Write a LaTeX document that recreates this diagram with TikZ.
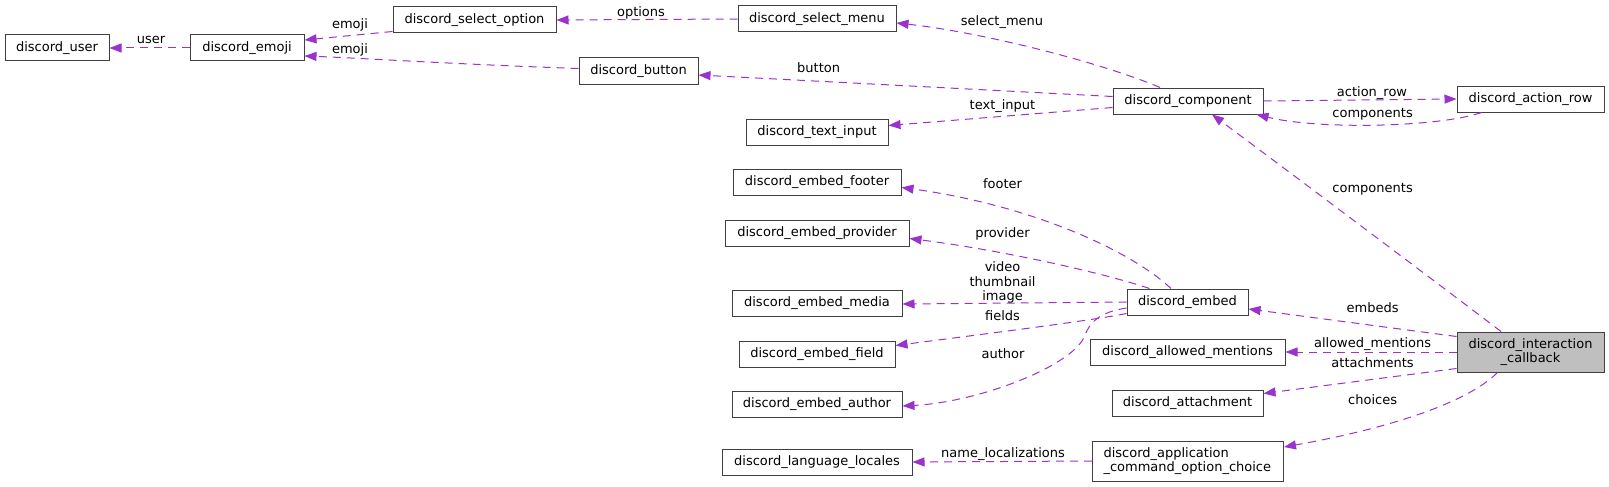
\documentclass[tikz,border=0pt]{standalone}
\usepackage{fontspec}
\setmainfont{DejaVu Sans}
\usetikzlibrary{arrows.meta,calc}
\definecolor{edgec}{HTML}{9A32CD}
\definecolor{boxc}{HTML}{404040}
\definecolor{fillc}{HTML}{BFBFBF}
\begin{document}
\begin{tikzpicture}[x=1pt,y=-1pt,
  font=\fontsize{13}{14.6}\selectfont,
  box/.style={draw=boxc, line width=1pt, fill=white, inner sep=0pt},
  cls/.style={box, minimum height=26pt, text height=9.5pt, text depth=3pt},
  rel/.style={draw=edgec, line width=1pt, dash pattern=on 8pt off 6pt,
    -{Triangle[length=12pt,width=9pt,fill=edgec]}},
  lbl/.style={anchor=base, inner sep=0pt, text=black}
]
\useasboundingbox[fill=white] (0,0) rectangle (1609,487);

% column 0
\node[cls, minimum width=104pt] (user) at (57,48) {discord\_user};
\node[cls, minimum width=114pt] (emoji) at (247,48) {discord\_emoji};
\node[cls, minimum width=163pt] (selopt) at (474.5,20) {discord\_select\_option};
\node[cls, minimum width=119pt] (button) at (638.5,71) {discord\_button};
% column 1
\node[cls, minimum width=158pt] (selmenu) at (817,19) {discord\_select\_menu};
\node[cls, minimum width=142pt] (textin) at (817,132) {discord\_text\_input};
\node[cls, minimum width=168pt] (footer) at (817,182) {discord\_embed\_footer};
\node[cls, minimum width=184pt] (provider) at (817,233) {discord\_embed\_provider};
\node[cls, minimum width=170pt] (media) at (817,303) {discord\_embed\_media};
\node[cls, minimum width=156pt] (field) at (817,354) {discord\_embed\_field};
\node[cls, minimum width=170pt] (author) at (817,404) {discord\_embed\_author};
\node[cls, minimum width=190pt] (locales) at (817,462) {discord\_language\_locales};
% column 2
\node[cls, minimum width=150pt] (comp) at (1188,101) {discord\_component};
\node[cls, minimum width=121pt] (embed) at (1187.5,302) {discord\_embed};
\node[cls, minimum width=195pt] (mentions) at (1187.5,352) {discord\_allowed\_mentions};
\node[cls, minimum width=151pt] (attach) at (1187.5,403) {discord\_attachment};
\node[box, anchor=west, minimum height=40pt, text width=169pt, inner xsep=11pt, align=left] (choice) at (1092,461) {discord\_application\\\_command\_option\_choice};
% column 3
\node[cls, minimum width=147pt] (arow) at (1530.5,99) {discord\_action\_row};
\node[box, fill=fillc, minimum width=147pt, minimum height=40pt, align=center] (callback) at (1530.5,352) {discord\_interaction\\\_callback};

% edges
\draw[rel] (emoji.west) -- (user.east) node[lbl] at (151,43.5) {user};
\draw[rel] ($(selopt.south west)+(0,-2)$) -- ($(emoji.east)+(0,-8)$) node[lbl] at (350,28.5) {emoji};
\draw[rel] ($(button.west)+(0,-2.5)$) .. controls (450,64) and (360,58) .. ($(emoji.east)+(0,8)$) node[lbl] at (350,53.5) {emoji};
\draw[rel] (selmenu.west) -- (selopt.east) node[lbl] at (641,16.5) {options};
\draw[rel] ($(comp.north)+(-28,0)$) .. controls (1100,62) and (980,32) .. ($(selmenu.east)+(0,4)$) node[lbl] at (1002,25.5) {select\_menu};
\draw[rel] ($(comp.west)+(0,-4.5)$) -- ($(button.east)+(0,4)$) node[lbl] at (818.6,72.5) {button};
\draw[rel] ($(comp.west)+(0,6.5)$) -- ($(textin.east)+(0,-6.5)$) node[lbl] at (1002.5,109.5) {text\_input};
\draw[rel] (comp.east) -- (arow.west) node[lbl] at (1372,96) {action\_row};
\draw[rel] ($(arow.south)+(-49,0)$) .. controls (1440,127) and (1320,130) .. ($(comp.south east)+(-7,0)$) node[lbl] at (1372.6,117) {components};
\draw[rel] ($(callback.north)+(-29.5,0)$) .. controls (1420,270) and (1300,180) .. ($(comp.south)+(24,0)$) node[lbl] at (1372.6,192.5) {components};
\draw[rel] ($(embed.north)+(-16.5,0)$) .. controls (1130,250) and (1030,205) .. ($(footer.east)+(0,5.5)$) node[lbl] at (1002.5,188) {footer};
\draw[rel] ($(embed.north west)+(23,0)$) .. controls (1100,272) and (1000,250) .. ($(provider.east)+(0,5.5)$) node[lbl] at (1002.5,237) {provider};
\draw[rel] (embed.west) -- ($(media.east)+(0,1)$) node[lbl, anchor=center, align=center] at (1002.5,282.6) {video\\thumbnail\\image};
\draw[rel] ($(embed.south west)+(0,-2)$) .. controls (1095,320) and (1000,332) .. ($(field.east)+(0,-8.5)$) node[lbl] at (1002.5,320) {fields};
\draw[rel] ($(embed.west)+(0,6)$) .. controls (1100,312) and (1090,322) .. (1085,335) .. controls (1075,365) and (980,402) .. ($(author.east)+(0,2)$) node[lbl] at (1003,358.8) {author};
\draw[rel] ($(callback.north west)+(0,5)$) -- ($(embed.east)+(0,7)$) node[lbl] at (1372.6,312.8) {embeds};
\draw[rel] (callback.west) -- (mentions.east) node[lbl] at (1372.6,347.8) {allowed\_mentions};
\draw[rel] ($(callback.south west)+(0,-4)$) -- ($(attach.east)+(0,-9.5)$) node[lbl] at (1372.6,367.8) {attachments};
\draw[rel] ($(callback.south)+(-33,0)$) .. controls (1465,405) and (1380,430) .. ($(choice.east)+(0,-14)$) node[lbl] at (1372.6,404.5) {choices};
\draw[rel] (choice.west) -- (locales.east) node[lbl] at (1003,457.2) {name\_localizations};
\end{tikzpicture}
\end{document}
